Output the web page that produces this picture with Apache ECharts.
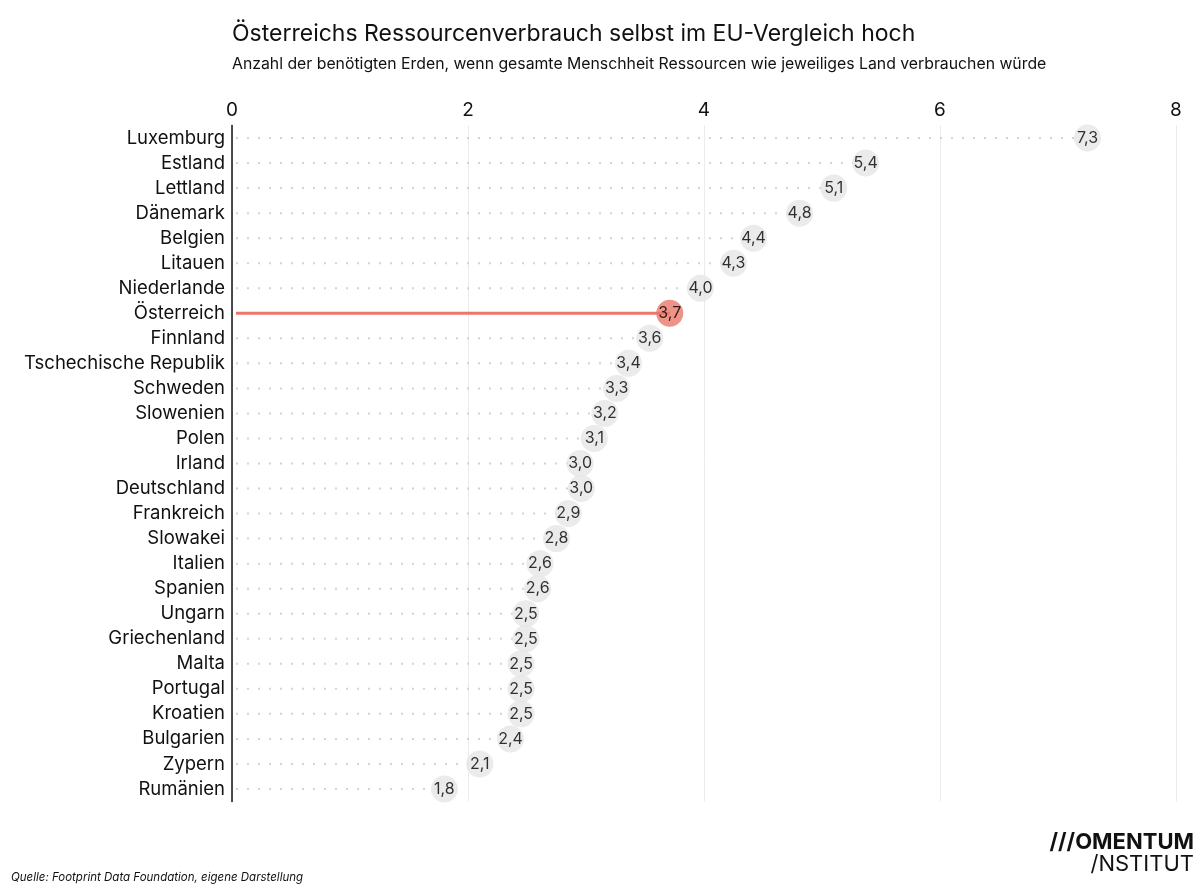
<!DOCTYPE html>
<html><head><meta charset="utf-8">
<script src="https://cdn.jsdelivr.net/npm/echarts@6/dist/echarts.min.js"></script>
<style>html,body{margin:0;padding:0;background:#fff}#c{width:1200px;height:889px}</style>
</head><body><div id="c"></div>
<script>
const countries = ["Luxemburg","Estland","Lettland","Dänemark","Belgien","Litauen","Niederlande","Österreich","Finnland","Tschechische Republik","Schweden","Slowenien","Polen","Irland","Deutschland","Frankreich","Slowakei","Italien","Spanien","Ungarn","Griechenland","Malta","Portugal","Kroatien","Bulgarien","Zypern","Rumänien"];
const values = [7.25,5.37,5.1,4.81,4.42,4.25,3.97,3.71,3.54,3.36,3.26,3.16,3.07,2.95,2.96,2.85,2.75,2.61,2.59,2.49,2.49,2.45,2.45,2.45,2.36,2.1,1.8];
const valueLabels = ["7,3","5,4","5,1","4,8","4,4","4,3","4,0","3,7","3,6","3,4","3,3","3,2","3,1","3,0","3,0","2,9","2,8","2,6","2,6","2,5","2,5","2,5","2,5","2,5","2,4","2,1","1,8"];
const highlight = "Österreich";
const xTicks = [0,2,4,6,8];

const FONT = "Inter, 'Noto Sans', sans-serif";
const chart = echarts.init(document.getElementById('c'), null, {renderer:'canvas'});
const pts = values.map((v,i)=>[v,i]);
chart.setOption({
  animation:false,
  backgroundColor:'#fff',
  textStyle:{fontFamily:FONT},
  grid:{left:232,right:24,top:125.5,bottom:87.5},
  xAxis:{type:'value',position:'top',min:xTicks[0],max:xTicks[xTicks.length-1],interval:2,
    axisLine:{show:false},axisTick:{show:false},
    axisLabel:{fontSize:19,color:'#111',margin:6,fontFamily:FONT},
    splitLine:{show:true,lineStyle:{color:'#ebebeb',width:1}}},
  yAxis:{type:'category',inverse:true,data:countries,
    axisLine:{show:true,lineStyle:{color:'#111',width:1.5}},
    axisTick:{show:false},
    axisLabel:{fontSize:18.5,color:'#111',margin:7,fontFamily:FONT},
    splitLine:{show:false}},
  series:[
    {type:'custom',data:pts,z:1,
     renderItem:function(params,api){
       const i=api.value(1), v=api.value(0);
       const a=api.coord([0,i]), b=api.coord([v,i]);
       const hi = countries[i]===highlight;
       return {type:'line',shape:{x1:a[0]+4,y1:a[1],x2:b[0],y2:b[1]},
         style:hi?{stroke:'#e8786b',lineWidth:3}:{stroke:'#d4d4d4',lineWidth:2,lineDash:[2,9]}};
     }},
    {type:'scatter',z:3,symbolSize:27,
     data:pts.map((p,i)=>({value:p,itemStyle:{color:countries[i]===highlight?'#e8786b':'#e6e6e6'}})),
     label:{show:true,position:'inside',fontSize:16,color:'#000',fontFamily:FONT,
       formatter:p=>valueLabels[p.dataIndex]}}
  ],
  graphic:[
    {type:'text',left:232,top:23,style:{text:'Österreichs Ressourcenverbrauch selbst im EU-Vergleich hoch',fontSize:23,fontFamily:FONT,fill:'#111',fontWeight:400}},
    {type:'text',left:232,top:56,style:{text:'Anzahl der benötigten Erden, wenn gesamte Menschheit Ressourcen wie jeweiliges Land verbrauchen würde',fontSize:15.8,fontFamily:FONT,fill:'#111'}},
    {type:'text',left:11,top:872,style:{text:'Quelle: Footprint Data Foundation, eigene Darstellung',fontSize:11.5,fontStyle:'italic',fontFamily:FONT,fill:'#111'}},
    {type:'text',right:6,top:831,style:{text:'///OMENTUM',fontSize:22,fontWeight:'bold',fontFamily:FONT,fill:'#111'}},
    {type:'text',right:6,top:853,style:{text:'/NSTITUT',fontSize:22,fontFamily:FONT,fill:'#111'}}
  ]
});
</script></body></html>
